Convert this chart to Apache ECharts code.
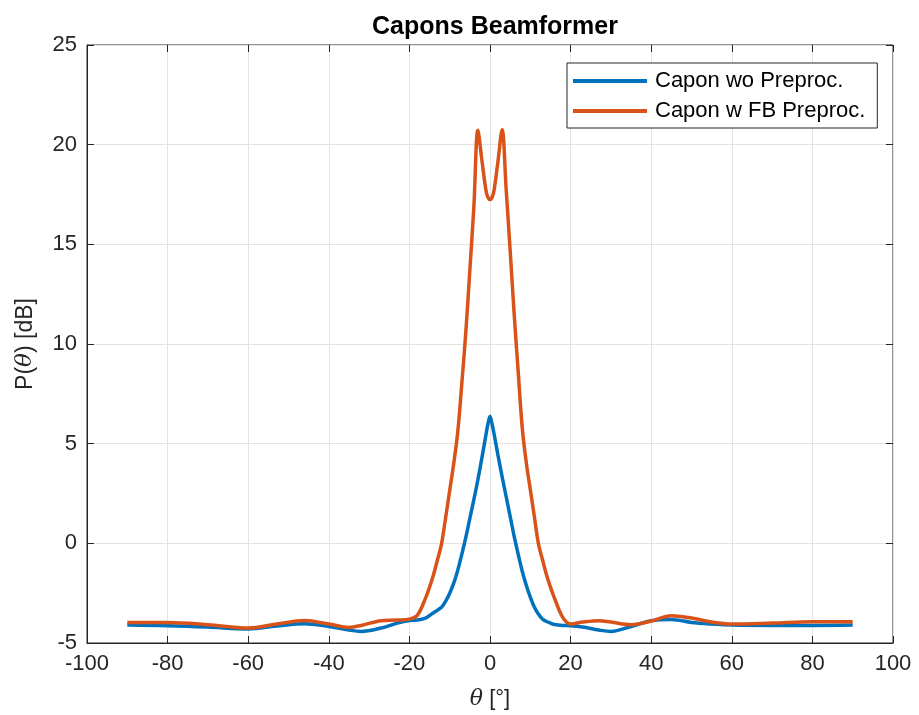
<!DOCTYPE html>
<html>
<head>
<meta charset="utf-8">
<script src="https://cdn.jsdelivr.net/npm/echarts@6/dist/echarts.min.js"></script>
<style>
  html, body { margin: 0; padding: 0; background: #fff; }
  #main { width: 919px; height: 715px; }
</style>
</head>
<body>
<div id="main"></div>
<script>
// 角度采样点 (deg)
var theta = [-90, -80, -70, -60, -53, -46, -40, -35, -32, -27, -23, -20, -18, -16, -15, -14, -13, -12, -11, -10, -9, -8, -7, -6, -5, -4, -3, -2, -1, -0.5, 0,
    0.5, 1, 2, 3, 4, 5, 6, 7, 8, 9, 10, 11, 12, 13, 14, 15, 16, 18, 20, 23, 27, 30, 35, 40, 45, 50, 55, 60, 70, 80, 90];
// Capon wo Preproc. (dB)
var caponWo = [-4.10, -4.13, -4.20, -4.30, -4.15, -4.03, -4.17, -4.35, -4.42, -4.25, -4.00, -3.87, -3.85, -3.75, -3.62, -3.48, -3.35, -3.20, -2.90, -2.50, -2.00, -1.35, -0.55, 0.30, 1.25, 2.20, 3.20, 4.30, 5.45, 6.00, 6.38,
    6.00, 5.50, 4.40, 3.35, 2.35, 1.35, 0.35, -0.55, -1.40, -2.10, -2.70, -3.20, -3.55, -3.80, -3.92, -4.00, -4.07, -4.12, -4.13, -4.20, -4.35, -4.42, -4.17, -3.88, -3.82, -3.97, -4.05, -4.10, -4.12, -4.12, -4.10];
// Capon w FB Preproc. (dB)
var caponFb = [-3.97, -3.97, -4.08, -4.25, -4.05, -3.87, -4.05, -4.22, -4.12, -3.88, -3.85, -3.80, -3.60, -2.75, -2.20, -1.56, -0.80, 0.00, 1.30, 2.65, 4.00, 5.60, 8.00, 10.6, 13.7, 16.9, 20.72, 19.2, 17.7, 17.35, 17.25,
    17.35, 17.7, 19.2, 20.75, 17.8, 14.7, 11.5, 8.6, 5.8, 4.05, 2.70, 1.35, 0.00, -0.80, -1.56, -2.20, -2.75, -3.70, -4.05, -3.95, -3.88, -3.95, -4.08, -3.90, -3.63, -3.75, -3.95, -4.05, -4.00, -3.93, -3.93];
var xTicks = [-100, 100, 20]; // min, max, step
var yTicks = [-5, 25, 5];

var font = 'Liberation Sans, Arial, sans-serif';
var axisColor = '#262626';
var gridColor = '#e3e3e3';

function pairs(xs, ys) {
    var out = [];
    for (var i = 0; i < xs.length; i++) out.push([xs[i], ys[i]]);
    return out;
}

var chart = echarts.init(document.getElementById('main'));
var option = {
    animation: false,
    backgroundColor: '#fff',
    title: {
        text: 'Capons Beamformer',
        left: 490, top: 10, textAlign: 'center',
        textStyle: { fontFamily: font, fontSize: 25, fontWeight: 'bold', color: '#000' }
    },
    legend: {
        left: 567, top: 63,
        orient: 'vertical',
        backgroundColor: '#fff',
        borderColor: axisColor, borderWidth: 1, borderRadius: 0,
        padding: [7, 12, 6, 6],
        itemWidth: 74, itemHeight: 4, itemGap: 8,
        icon: 'rect',
        textStyle: { fontFamily: font, fontSize: 22, color: '#000', padding: [0, 0, 0, 3] },
        data: ['Capon wo Preproc.', 'Capon w FB Preproc.']
    },
    grid: { left: 87, right: 26, top: 45, bottom: 70, show: true, borderColor: axisColor, borderWidth: 1 },
    xAxis: [{
        type: 'value', min: xTicks[0], max: xTicks[1], interval: xTicks[2],
        name: '{i|θ} [°]', nameLocation: 'middle', nameGap: 45,
        nameTextStyle: { fontFamily: font, fontSize: 22, color: axisColor,
            rich: { i: { fontFamily: 'DejaVu Serif', fontStyle: 'italic', fontSize: 22, color: axisColor } } },
        axisLine: { onZero: false, lineStyle: { color: axisColor } },
        axisTick: { inside: true, length: 7, lineStyle: { color: axisColor } },
        axisLabel: { fontFamily: font, fontSize: 22, color: axisColor, margin: 10 },
        splitLine: { show: true, lineStyle: { color: gridColor } }
    }, {
        type: 'value', position: 'top', min: xTicks[0], max: xTicks[1], interval: xTicks[2],
        axisLine: { show: false, onZero: false },
        axisTick: { inside: true, length: 7, lineStyle: { color: axisColor } },
        axisLabel: { show: false }, splitLine: { show: false }
    }],
    yAxis: [{
        type: 'value', min: yTicks[0], max: yTicks[1], interval: yTicks[2],
        name: 'P({i|θ}) [dB]', nameLocation: 'middle', nameGap: 50,
        nameTextStyle: { fontFamily: font, fontSize: 23, color: axisColor,
            rich: { i: { fontFamily: 'DejaVu Serif', fontStyle: 'italic', fontSize: 23, color: axisColor } } },
        axisLine: { show: true, onZero: false, lineStyle: { color: axisColor } },
        axisTick: { show: true, inside: true, length: 7, lineStyle: { color: axisColor } },
        axisLabel: { fontFamily: font, fontSize: 22, color: axisColor, margin: 10 },
        splitLine: { show: true, lineStyle: { color: gridColor } }
    }, {
        type: 'value', position: 'right', min: yTicks[0], max: yTicks[1], interval: yTicks[2],
        axisLine: { show: false, onZero: false },
        axisTick: { show: true, inside: true, length: 7, lineStyle: { color: axisColor } },
        axisLabel: { show: false }, splitLine: { show: false }
    }],
    series: [{
        name: 'Capon wo Preproc.', type: 'line', showSymbol: false, symbol: 'none',
        smooth: 0.35, data: pairs(theta, caponWo),
        color: '#0072BD', lineStyle: { width: 3.5, color: '#0072BD' }
    }, {
        name: 'Capon w FB Preproc.', type: 'line', showSymbol: false, symbol: 'none',
        smooth: 0.35, data: pairs(theta, caponFb),
        color: '#D95319', lineStyle: { width: 3.5, color: '#D95319' }
    }]
};
chart.setOption(option);
</script>
</body>
</html>
